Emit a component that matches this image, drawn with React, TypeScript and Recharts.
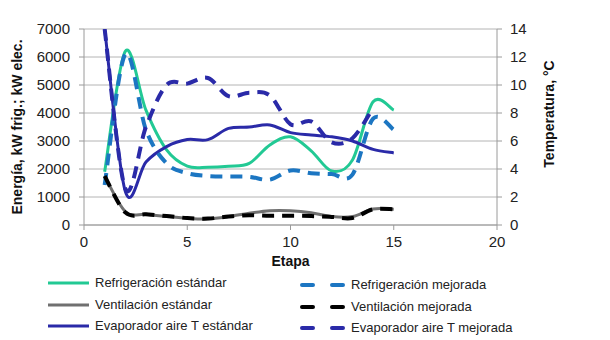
import { LineChart, Line, XAxis, YAxis, CartesianGrid } from 'recharts'

const etapas = [1, 2, 3, 4, 5, 6, 7, 8, 9, 10, 11, 12, 13, 14, 15]
const refrigeracionEstandar = [1900, 6200, 4100, 2680, 2100, 2060, 2100, 2200, 2860, 3150, 2650, 1930, 2320, 4400, 4100]
const refrigeracionMejorada = [1430, 6100, 3400, 2200, 1850, 1750, 1730, 1720, 1620, 1950, 1850, 1820, 1800, 3800, 3400]
const ventilacionEstandar = [1750, 480, 380, 300, 240, 220, 300, 420, 510, 510, 440, 300, 300, 570, 560]
const ventilacionMejorada = [1750, 450, 380, 320, 250, 230, 300, 350, 330, 330, 320, 290, 250, 560, 560]
const evaporadorEstandar = [14, 2.4, 4.5, 5.6, 6.1, 6.1, 6.9, 7.0, 7.15, 6.6, 6.43, 6.3, 6.0, 5.4, 5.15]
const evaporadorMejorada = [14, 2.6, 7.0, 10.0, 10.1, 10.5, 9.2, 9.45, 9.25, 7.2, 7.4, 5.9, 6.2, 8.35, null]

const xTicks = [0, 5, 10, 15, 20]
const energiaTicks = [0, 1000, 2000, 3000, 4000, 5000, 6000, 7000]
const tempTicks = [0, 2, 4, 6, 8, 10, 12, 14]

const data = etapas.map((etapa, i) => ({
  etapa,
  refEst: refrigeracionEstandar[i],
  refMej: refrigeracionMejorada[i],
  venEst: ventilacionEstandar[i],
  venMej: ventilacionMejorada[i],
  evaEst: evaporadorEstandar[i],
  evaMej: evaporadorMejorada[i],
}))

// Excel-like smoothed line (cardinal spline through the points)
const smooth = (context: any) => {
  let pts: number[][] = []
  return {
    areaStart() {},
    areaEnd() {},
    lineStart() {
      pts = []
    },
    lineEnd() {
      const n = pts.length
      if (!n) return
      context.moveTo(pts[0][0], pts[0][1])
      for (let i = 0; i < n - 1; i++) {
        const p0 = pts[Math.max(i - 1, 0)]
        const p1 = pts[i]
        const p2 = pts[i + 1]
        const p3 = pts[Math.min(i + 2, n - 1)]
        context.bezierCurveTo(
          p1[0] + (p2[0] - p0[0]) / 6,
          p1[1] + (p2[1] - p0[1]) / 6,
          p2[0] - (p3[0] - p1[0]) / 6,
          p2[1] - (p3[1] - p1[1]) / 6,
          p2[0],
          p2[1]
        )
      }
    },
    point(x: number, y: number) {
      pts.push([+x, +y])
    },
  }
}

const font = '"Liberation Sans", Arial, sans-serif'
const tickStyle = { fontSize: 15, fill: '#222', fontFamily: font }
const axisColor = '#9a9a9a'

const series = [
  { key: 'refEst', name: 'Refrigeración estándar', color: '#22c994', dash: false, axis: 'e', width: 3 },
  { key: 'venEst', name: 'Ventilación estándar', color: '#707070', dash: false, axis: 'e', width: 3 },
  { key: 'evaEst', name: 'Evaporador aire T estándar', color: '#2a2aa8', dash: false, axis: 't', width: 3 },
  { key: 'refMej', name: 'Refrigeración mejorada', color: '#1c76c2', dash: true, axis: 'e', width: 4 },
  { key: 'venMej', name: 'Ventilación mejorada', color: '#000000', dash: true, axis: 'e', width: 4 },
  { key: 'evaMej', name: 'Evaporador aire T mejorada', color: '#2a2aa8', dash: true, axis: 't', width: 4 },
]

function LegendBox() {
  const rows = [0, 1, 2]
  return (
    <div style={{ position: 'absolute', left: 0, top: 0, width: 610, height: 340, pointerEvents: 'none' }}>
      {rows.map((r) => {
        const s = series[r]
        const m = series[r + 3]
        return (
          <div key={r}>
            <svg style={{ position: 'absolute', left: 47, top: 276 + r * 21.5 }} width={44} height={14}>
              <line x1={1} y1={7} x2={42} y2={7} stroke={s.color} strokeWidth={s.width} />
            </svg>
            <span style={{ position: 'absolute', left: 95, top: 275 + r * 21.5, fontSize: 13, fontFamily: font, color: '#222', whiteSpace: 'nowrap' }}>{s.name}</span>
            <svg style={{ position: 'absolute', left: 300, top: 278 + r * 21.5, width: 50 }} width={50} height={14}>
              <line x1={2} y1={7} x2={48} y2={7} stroke={m.color} strokeWidth={m.width} strokeDasharray="11 19" strokeLinecap="round" />
            </svg>
            <span style={{ position: 'absolute', left: 351, top: 277 + r * 21.5, fontSize: 13, fontFamily: font, color: '#222', whiteSpace: 'nowrap' }}>{m.name}</span>
          </div>
        )
      })}
    </div>
  )
}

export default function App() {
  return (
    <div style={{ position: 'absolute', left: 0, top: 0, width: 610, height: 340, background: '#fff' }}>
      <LineChart width={610} height={340} data={data} margin={{ top: 29, right: 53, left: 24, bottom: 85 }}>
        <CartesianGrid yAxisId="e" vertical={false} stroke="#b4b4b4" />
        <XAxis
          dataKey="etapa"
          type="number"
          domain={[0, 20]}
          ticks={xTicks}
          height={30}
          tick={tickStyle}
          tickSize={5}
          tickMargin={6}
          stroke={axisColor}
          label={{ value: 'Etapa', position: 'bottom', offset: 1, style: { fontSize: 14, fontWeight: 'bold', fill: '#111', fontFamily: font } }}
        />
        <YAxis
          yAxisId="e"
          orientation="left"
          width={60}
          domain={[0, 7000]}
          ticks={energiaTicks}
          tick={tickStyle}
          tickSize={5}
          tickMargin={9}
          stroke={axisColor}
          label={{
            value: 'Energía, kW frig.; kW elec.',
            angle: -90,
            position: 'insideLeft',
            offset: -7,
            style: { textAnchor: 'middle', fontSize: 14, fontWeight: 'bold', fill: '#111', fontFamily: font },
          }}
        />
        <YAxis
          yAxisId="t"
          orientation="right"
          width={60}
          domain={[0, 14]}
          allowDataOverflow
          ticks={tempTicks}
          tick={tickStyle}
          tickSize={5}
          tickMargin={8}
          stroke={axisColor}
          label={() => (
            <text
              x={549}
              y={114}
              transform="rotate(-90 549 114)"
              textAnchor="middle"
              dominantBaseline="central"
              style={{ fontSize: 14, fontWeight: 'bold', fill: '#111', fontFamily: font }}
            >
              Temperatura, °C
            </text>
          )}
        />
        {series.map((s) => (
          <Line
            key={s.key}
            yAxisId={s.axis}
            dataKey={s.key}
            name={s.name}
            type={smooth as any}
            stroke={s.color}
            strokeWidth={s.width}
            strokeDasharray={s.dash ? '12 8' : undefined}
            dot={false}
            activeDot={false}
            isAnimationActive={false}
          />
        ))}
      </LineChart>
      <LegendBox />
    </div>
  )
}
